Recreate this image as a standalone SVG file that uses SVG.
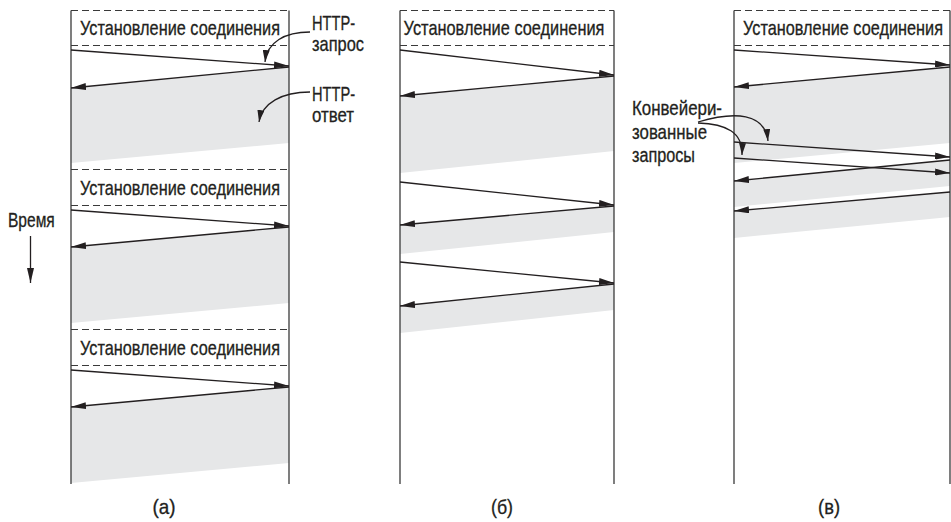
<svg xmlns="http://www.w3.org/2000/svg" width="951" height="522" viewBox="0 0 951 522">
<defs>
<marker id="ah" markerUnits="userSpaceOnUse" markerWidth="15" markerHeight="7" refX="15" refY="3.5" orient="auto">
<path d="M0,0 L15,3.5 L0,7 z" fill="#231f20"/>
</marker>
<marker id="ahc" markerUnits="userSpaceOnUse" markerWidth="12" markerHeight="7" refX="12" refY="3.5" orient="auto">
<path d="M0,0 L12,3.5 L0,7 z" fill="#231f20"/>
</marker>
<style>
.t{font-family:"Liberation Sans",Arial,sans-serif;font-size:20px;fill:#231f20;stroke:#231f20;stroke-width:0.3}
.h{text-anchor:middle}
.v{stroke:#3a3a3a;stroke-width:1.3;fill:none}
.d{stroke:#3a3a3a;stroke-width:1.2;stroke-dasharray:7 4;fill:none}
.g{fill:#e6e7e8;stroke:none}
.m{stroke:#231f20;stroke-width:1.3;fill:none;marker-end:url(#ah)}
.c{stroke:#231f20;stroke-width:1.3;fill:none;marker-end:url(#ahc)}
</style>
</defs>
<rect width="951" height="522" fill="#ffffff"/>

<g id="panel-a">
<polygon class="g" points="71,88 289,67 289,143 71,163"/>
<polygon class="g" points="71,247 289,227 289,303 71,323"/>
<polygon class="g" points="71,407 289,387 289,463 71,483"/>
<line class="v" x1="71" y1="10.5" x2="71" y2="484"/>
<line class="v" x1="289" y1="10.5" x2="289" y2="484"/>
<line class="d" x1="71" y1="10.5" x2="289" y2="10.5"/>
<line class="d" x1="71" y1="45.5" x2="289" y2="45.5"/>
<line class="d" x1="71" y1="169.5" x2="289" y2="169.5"/>
<line class="d" x1="71" y1="205.5" x2="289" y2="205.5"/>
<line class="d" x1="71" y1="329.5" x2="289" y2="329.5"/>
<line class="d" x1="71" y1="365.5" x2="289" y2="365.5"/>
<text class="t h" transform="translate(180,35) scale(0.813,1)" textLength="246" lengthAdjust="spacingAndGlyphs">Установление соединения</text>
<text class="t h" transform="translate(180,195) scale(0.813,1)" textLength="246" lengthAdjust="spacingAndGlyphs">Установление соединения</text>
<text class="t h" transform="translate(180,355) scale(0.813,1)" textLength="246" lengthAdjust="spacingAndGlyphs">Установление соединения</text>
<text class="t h" transform="translate(164,514) scale(0.94,1)" textLength="24.5" lengthAdjust="spacingAndGlyphs">(а)</text>
</g>

<g id="panel-b">
<polygon class="g" points="400,96 614,76 614,151 400,173"/>
<polygon class="g" points="400,225 614,206 614,232 400,254"/>
<polygon class="g" points="400,306 614,284 614,310 400,333"/>
<line class="v" x1="400" y1="10.5" x2="400" y2="484"/>
<line class="v" x1="614" y1="10.5" x2="614" y2="484"/>
<line class="d" x1="400" y1="10.5" x2="614" y2="10.5"/>
<line class="d" x1="400" y1="45.5" x2="614" y2="45.5"/>
<text class="t h" transform="translate(504,35) scale(0.813,1)" textLength="247" lengthAdjust="spacingAndGlyphs">Установление соединения</text>
<text class="t h" transform="translate(502,514) scale(0.94,1)" textLength="23.4" lengthAdjust="spacingAndGlyphs">(б)</text>
</g>

<g id="panel-c">
<polygon class="g" points="734,87 950,67 950,143 734,163"/>
<polygon class="g" points="734,181 950,160 950,186 734,207"/>
<polygon class="g" points="734,211 950,192 950,217 734,238"/>
<line class="v" x1="734" y1="10.5" x2="734" y2="484"/>
<line class="v" x1="950" y1="10.5" x2="950" y2="484"/>
<line class="d" x1="734" y1="10.5" x2="950" y2="10.5"/>
<line class="d" x1="734" y1="45.5" x2="950" y2="45.5"/>
<text class="t h" transform="translate(843,35) scale(0.813,1)" textLength="246" lengthAdjust="spacingAndGlyphs">Установление соединения</text>
<text class="t h" transform="translate(829,514) scale(0.94,1)" textLength="23.4" lengthAdjust="spacingAndGlyphs">(в)</text>
</g>

<g id="label-time">
<text class="t" transform="translate(8,227) scale(0.78,1)" textLength="60" lengthAdjust="spacingAndGlyphs">Время</text>
<line x1="30.5" y1="236" x2="30.5" y2="283" stroke="#231f20" stroke-width="1.3" marker-end="url(#ah)"/>
</g>

<g id="label-http">
<text class="t" transform="translate(312,30) scale(0.73,1)" textLength="59" lengthAdjust="spacingAndGlyphs">HTTP-</text>
<text class="t" transform="translate(312,51) scale(0.82,1)" textLength="63.4" lengthAdjust="spacingAndGlyphs">запрос</text>
<text class="t" transform="translate(312,101) scale(0.73,1)" textLength="59" lengthAdjust="spacingAndGlyphs">HTTP-</text>
<text class="t" transform="translate(312,122) scale(0.85,1)" textLength="49.4" lengthAdjust="spacingAndGlyphs">ответ</text>
</g>

<g id="label-pipelined">
<text class="t" transform="translate(632,115) scale(0.845,1)" textLength="106.5" lengthAdjust="spacingAndGlyphs">Конвейери-</text>
<text class="t" transform="translate(632,139) scale(0.84,1)" textLength="89.3" lengthAdjust="spacingAndGlyphs">зованные</text>
<text class="t" transform="translate(632,162) scale(0.81,1)" textLength="77.8" lengthAdjust="spacingAndGlyphs">запросы</text>
</g>

<g id="connectors">
<line class="m" x1="71" y1="50" x2="289" y2="66"/>
<line class="m" x1="289" y1="67" x2="71" y2="88"/>
<line class="m" x1="71" y1="210" x2="289" y2="226"/>
<line class="m" x1="289" y1="227" x2="71" y2="247"/>
<line class="m" x1="71" y1="370" x2="289" y2="386"/>
<line class="m" x1="289" y1="387" x2="71" y2="407"/>

<line class="m" x1="400" y1="50" x2="614" y2="75"/>
<line class="m" x1="614" y1="76" x2="400" y2="96"/>
<line class="m" x1="400" y1="182" x2="614" y2="205"/>
<line class="m" x1="614" y1="206" x2="400" y2="225"/>
<line class="m" x1="400" y1="262" x2="614" y2="283"/>
<line class="m" x1="614" y1="284" x2="400" y2="306"/>

<line class="m" x1="734" y1="50" x2="950" y2="65"/>
<line class="m" x1="950" y1="67" x2="734" y2="87"/>
<line class="m" x1="734" y1="142" x2="950" y2="157"/>
<line class="m" x1="734" y1="158" x2="950" y2="173"/>
<line class="m" x1="950" y1="160" x2="734" y2="181"/>
<line class="m" x1="950" y1="192" x2="734" y2="211"/>

<path class="c" d="M310,32 C285,32 267,42 265,62"/>
<path class="c" d="M310,92 C282,92 262,103 259,122"/>
<path class="c" d="M698,122 C735,111 765,113 768,141"/>
<path class="c" d="M698,123 C726,124 743,132 742,155"/>
</g>
</svg>
